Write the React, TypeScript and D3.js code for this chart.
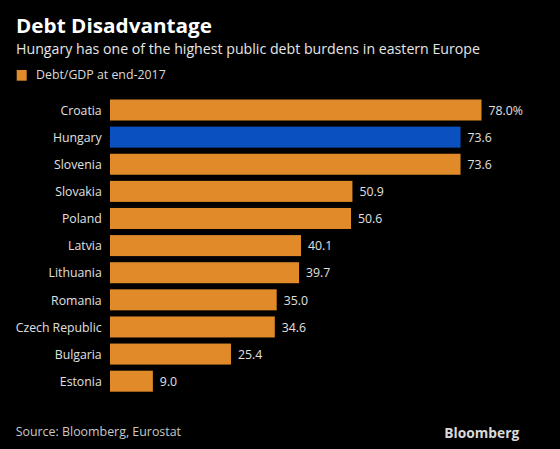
import React from "react";
import * as d3 from "d3";

const countries = ["Croatia", "Hungary", "Slovenia", "Slovakia", "Poland", "Latvia", "Lithuania", "Romania", "Czech Republic", "Bulgaria", "Estonia"];
const debtValues = [78.0, 73.6, 73.6, 50.9, 50.6, 40.1, 39.7, 35.0, 34.6, 25.4, 9.0];
const highlighted = "Hungary";

const W = 560;
const H = 449;
const ORANGE = "#E08A2A";
const BLUE = "#0A50BE";
const FONT = "'Open Sans', 'Noto Sans', sans-serif";
const SQ = 0.91;

export default function App() {
  const x = d3.scaleLinear().domain([0, 78]).range([110, 481.5]);
  const y = d3.scaleBand<string>().domain(countries).range([99.5, 391.7]).paddingInner(0.225).paddingOuter(0);

  return (
    <div style={{ position: "fixed", left: 0, top: 0 }}>
      <svg width={W} height={H} style={{ display: "block", background: "#000" }}>
        <rect x={0} y={0} width={W} height={H} fill="#000" />
        <text x={16} y={32.7} fill="#fff" fontFamily={FONT} fontWeight={700} fontSize={19} textLength={196} lengthAdjust="spacingAndGlyphs">Debt Disadvantage</text>
        <text x={16} y={54.3} fill="#e6e6e6" fontFamily={FONT} fontSize={14.5} textLength={464} lengthAdjust="spacingAndGlyphs">Hungary has one of the highest public debt burdens in eastern Europe</text>
        <rect x={16.7} y={70} width={10} height={10.7} fill={ORANGE} />
        <text x={36} y={79.3} fill="#d9d9d9" fontFamily={FONT} fontSize={13} textLength={129.7} lengthAdjust="spacingAndGlyphs">Debt/GDP at end-2017</text>
        {countries.map((c, i) => {
          const v = debtValues[i];
          const yy = y(c)!;
          const bw = y.bandwidth();
          const cy = yy + bw / 2;
          return (
            <g key={c}>
              <rect x={x(0)} y={yy} width={x(v) - x(0)} height={bw} fill={c === highlighted ? BLUE : ORANGE} />
              <text transform={`translate(101.7,${cy}) scale(${SQ},1)`} dy="0.35em" textAnchor="end" fill="#e0e0e0" fontFamily={FONT} fontSize={13.5}>{c}</text>
              <text transform={`translate(${x(v) + 7},${cy}) scale(${SQ},1)`} dy="0.35em" fill="#e0e0e0" fontFamily={FONT} fontSize={13.5}>{i === 0 ? d3.format(".1f")(v) + "%" : d3.format(".1f")(v)}</text>
            </g>
          );
        })}
        <text x={15.7} y={436} fill="#c8c8c8" fontFamily={FONT} fontSize={13} textLength={165.3} lengthAdjust="spacingAndGlyphs">Source: Bloomberg, Eurostat</text>
        <text x={444.3} y={438.3} fill="#d9d9d9" fontFamily={FONT} fontWeight={700} fontSize={14} textLength={75} lengthAdjust="spacingAndGlyphs">Bloomberg</text>
      </svg>
    </div>
  );
}
